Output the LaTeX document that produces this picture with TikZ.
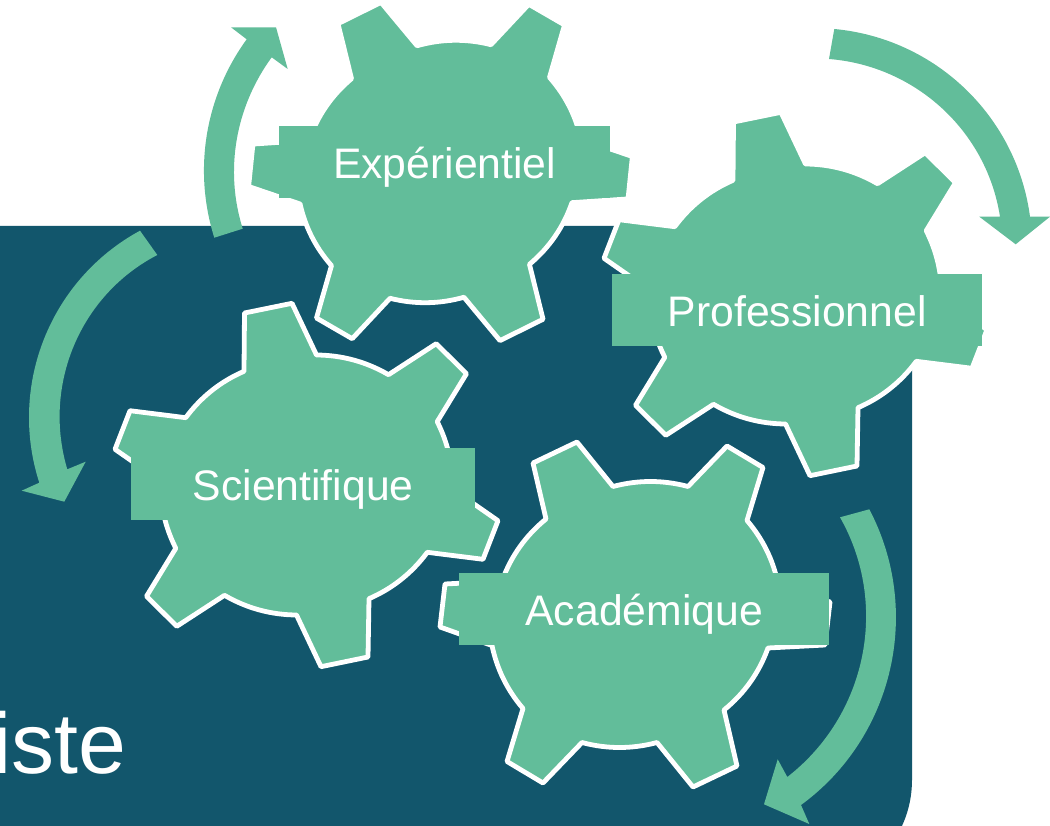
\documentclass[tikz,border=0pt]{standalone}
\usepackage{fontspec}
\setmainfont{Liberation Sans}
\usetikzlibrary{calc}
\definecolor{leaf}{HTML}{62BD9A}
\definecolor{deep}{HTML}{12566C}
\tikzset{
  cogwheel/.style={fill=leaf,draw=white,line width=4.8pt,line join=round},
  sweep/.style={fill=leaf,draw=none},
  tag/.style={fill=leaf,draw=none,inner sep=0pt,text=white,text height=52pt,text depth=20pt,
    align=center,font=\fontsize{42.7}{50}\selectfont,anchor=north west}
}
\newcommand{\cogA}{%
  (-102,-151.5) -- (-58,-172.5) -- (-22,-128) .. controls ($(-22,-128)!.667!(15.5,-138)$) and ($(53,-128)!.667!(15.5,-138)$) .. (53,-128)
  -- (92,-168.5) -- (128,-147) -- (112,-94) .. controls ($(112,-94)!.667!(135.6,-66.5)$) and ($(143,-31)!.667!(135.6,-66.5)$) .. (143,-31)
  -- (195,-12.5) -- (190,30.5) -- (133,33.5) .. controls ($(133,33.5)!.667!(119.6,70.6)$) and ($(89,95.5)!.667!(119.6,70.6)$) .. (89,95.5)
  -- (102,151.5) -- (58,172.5) -- (22,128) .. controls ($(22,128)!.667!(-15.5,138)$) and ($(-53,128)!.667!(-15.5,138)$) .. (-53,128)
  -- (-92,168.5) -- (-128,147) -- (-112,94) .. controls ($(-112,94)!.667!(-135.6,66.5)$) and ($(-143,31)!.667!(-135.6,66.5)$) .. (-143,31)
  -- (-195,12.5) -- (-190,-30.5) -- (-133,-33.5) .. controls ($(-133,-33.5)!.667!(-119.6,-70.6)$) and ($(-89,-95.5)!.667!(-119.6,-70.6)$) .. (-89,-95.5)
  -- cycle}
\newcommand{\cogB}{%
  (-62,-172) -- (-14.5,-181.7) -- (10,-130) .. controls ($(10,-130)!.667!(48.6,-129.7)$) and ($(82,-110.3)!.667!(48.6,-129.7)$) .. (82,-110.3)
  -- (129.7,-141.3) -- (160,-111.3) -- (130.7,-63.3) .. controls ($(130.7,-63.3)!.667!(146.8,-31.5)$) and ($(146,4)!.667!(146.8,-31.5)$) .. (146,4)
  -- (191.5,35.7) -- (176.5,74.3) -- (120.8,67.3) .. controls ($(120.8,67.3)!.667!(97.9,98.3)$) and ($(62.5,113.7)!.667!(97.9,98.3)$) .. (62.5,113.7)
  -- (61.5,172) -- (14.5,181.7) -- (-10,130) .. controls ($(-10,130)!.667!(-48.6,129.7)$) and ($(-82,110.3)!.667!(-48.6,129.7)$) .. (-82,110.3)
  -- (-129.7,141.3) -- (-160,111.3) -- (-130.7,63.3) .. controls ($(-130.7,63.3)!.667!(-146.8,31.5)$) and ($(-146,-4)!.667!(-146.8,31.5)$) .. (-146,-4)
  -- (-191.5,-35.7) -- (-176.5,-74.3) -- (-120.8,-67.3) .. controls ($(-120.8,-67.3)!.667!(-97.9,-98.3)$) and ($(-62.5,-113.7)!.667!(-97.9,-98.3)$) .. (-62.5,-113.7)
  -- cycle}
\begin{document}
\begin{tikzpicture}[x=1pt,y=-1pt]
\useasboundingbox (0,0) rectangle (1050,826);
\clip (0,0) rectangle (1050,826);
\fill[white] (0,0) rectangle (1050,826);
% panel
\fill[deep] (-200,226) -- (912,226) [rounded corners=110pt] -- (912,890) [sharp corners] -- (-200,890) -- cycle;
\node[text=white,font=\fontsize{86}{100}\selectfont,anchor=base west,inner sep=0pt] (word) at (-8,773) {iste};
% arrows
\fill[sweep] (214.3,237.7) .. controls (193,170.1) and (205,96.7) .. (246.7,39.3)
  -- (231,27.3) -- (276,27.3) -- (287.7,69) -- (271.7,57.3)
  .. controls (235.5,106.9) and (224.3,170.1) .. (242.7,228.7) -- cycle;
\fill[sweep] (834.3,29) .. controls (935.4,38.4) and (1016.6,116.1) .. (1030,216.7)
  -- (1050,216.7) -- (1015.7,244.3) -- (979.3,216.7) -- (1000,216.7)
  .. controls (986.7,130.9) and (915.5,65.8) .. (829,59) -- cycle;
\fill[sweep] (140,230.7) .. controls (50.2,279.5) and (7.9,385.4) .. (39.3,482.7)
  -- (21.7,490.7) -- (64.3,501.7) -- (85.7,461.7) -- (67.3,469.3)
  .. controls (42.3,385.6) and (79.7,295.2) .. (157.3,255) -- cycle;
\fill[sweep] (869.3,509.3) .. controls (922.7,611) and (893.7,737.2) .. (801,805)
  -- (809.3,824) -- (764,804.3) -- (777.7,759.3) -- (787.3,777)
  .. controls (866.6,715.5) and (889.6,604.6) .. (840,517.3) -- cycle;
% gears
\begin{scope}[shift={(440.5,171.5)},rotate=0.8,scale=.985]
  \draw[cogwheel] \cogA;
\end{scope}
\begin{scope}[shift={(795.5,294)}]
  \draw[cogwheel] \cogB;
\end{scope}
\begin{scope}[shift={(306.5,485)}]
  \draw[cogwheel] \cogB;
\end{scope}
\begin{scope}[shift={(635,614.5)}]
  \draw[cogwheel] \cogA;
\end{scope}
% labels
\node[tag,text width=331pt] (exp) at (279,126) {Expérientiel};
\node[tag,text width=370pt] (pro) at (612,274) {Professionnel};
\node[tag,text width=344pt] (sci) at (131,448) {Scientifique};
\node[tag,text width=370pt] (aca) at (459,573) {Académique};
\end{tikzpicture}
\end{document}
